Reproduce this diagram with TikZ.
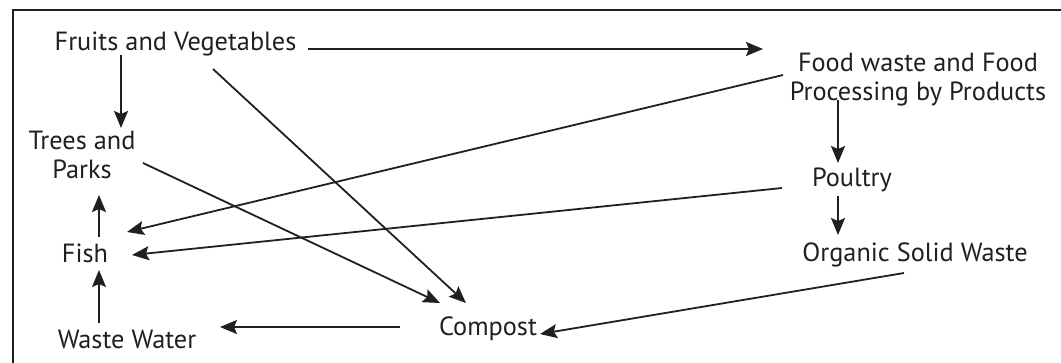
\documentclass[tikz,border=0pt]{standalone}
\usepackage{fontspec}
\setmainfont{PT Sans}
\usetikzlibrary{arrows.meta}
\definecolor{ink}{RGB}{35,31,32}

\begin{document}
\begin{tikzpicture}
[ x=1pt, y=-1pt, line width=1.8pt, draw=ink, text=ink
, item/.style={inner sep=0pt, anchor=base, align=center, font=\fontsize{26.3}{29}\selectfont}
, flow/.style={draw=ink, -{Stealth[length=17pt, width=14pt, inset=3pt]}}
, frame/.style={draw=ink, line width=2.4pt}
]
\useasboundingbox (0,0) rectangle (1061,362);
% Frame:
\draw [frame] (13,380) -- (13,10) -- (1080,10);
% Left column:
\node (fruits) [item] at (175.5,50) {Fruits and Vegetables};
\node (trees) [item] at (82,178) {Trees and\\Parks};
\node (fish) [item] at (85,262) {Fish};
\node (waste) [item] at (127,348) {Waste Water};
% Middle:
\node (compost) [item] at (488,335) {Compost};
% Right column:
\node (food) [item] at (918,100) {Food waste and Food\\Processing by Products};
\node (poultry) [item] at (852,186) {Poultry};
\node (organic) [item] at (915,261) {Organic Solid Waste};
% Connectors:
\draw [flow] ([shift={(132.5,-1)}]fruits.base) -- ([shift={(-155,-51)}]food.base);
\draw [flow] ([shift={(-54.5,5)}]fruits.base) -- ([shift={(39,-50)}]trees.base);
\draw [flow] ([shift={(37.5,19)}]fruits.base) -- ([shift={(-22,-32)}]compost.base);
\draw [flow] ([shift={(61,-15)}]trees.base) -- ([shift={(-48,-32)}]compost.base);
\draw [flow] ([shift={(-135,-25)}]food.base) -- ([shift={(42,-30)}]fish.base);
\draw [flow] ([shift={(-70,2)}]poultry.base) -- ([shift={(47,-7)}]fish.base);
\draw [flow] ([shift={(-80,0)}]food.base) -- ([shift={(-14,-23)}]poultry.base);
\draw [flow] ([shift={(-14,10)}]poultry.base) -- ([shift={(-77,-26)}]organic.base);
\draw [flow] ([shift={(-11,12)}]organic.base) -- ([shift={(52,-1)}]compost.base);
\draw [flow] ([shift={(-88,-8)}]compost.base) -- ([shift={(93,-21)}]waste.base);
\draw [flow] ([shift={(-28,-25)}]waste.base) -- ([shift={(14,8)}]fish.base);
\draw [flow] ([shift={(14,-25)}]fish.base) -- ([shift={(17,17)}]trees.base);
\end{tikzpicture}
\end{document}
